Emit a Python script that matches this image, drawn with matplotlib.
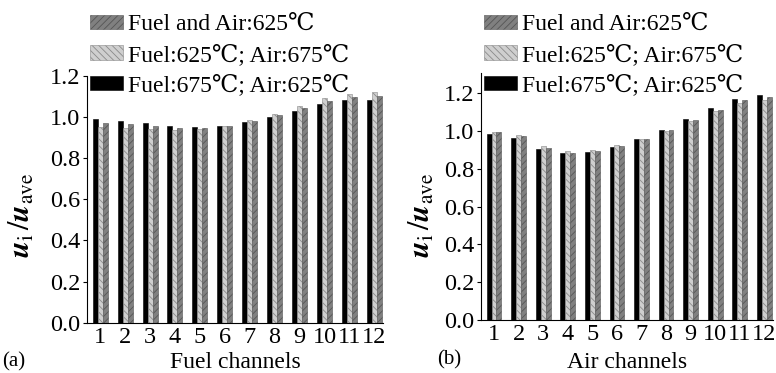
import numpy as np
import matplotlib.pyplot as plt

plt.rcParams['font.family'] = ['Liberation Serif', 'DejaVu Serif']
plt.rcParams['mathtext.fontset'] = 'stix'
plt.rcParams['hatch.linewidth'] = 0.6

channels = np.arange(1, 13)
tick_labels = [str(c) for c in channels]
series_names = ['Fuel and Air:625\u2103',
                'Fuel:625\u2103; Air:675\u2103',
                'Fuel:675\u2103; Air:625\u2103']

# (a) fuel channels
fuel_both_625 = [0.968, 0.964, 0.955, 0.947, 0.947, 0.956, 0.977, 1.006, 1.042, 1.076, 1.095, 1.102]
fuel_air_675 = [0.951, 0.947, 0.940, 0.937, 0.940, 0.956, 0.982, 1.011, 1.050, 1.089, 1.112, 1.118]
fuel_fuel_675 = [0.987, 0.980, 0.968, 0.955, 0.951, 0.956, 0.974, 1.000, 1.029, 1.061, 1.079, 1.082]

# (b) air channels
air_both_625 = [0.995, 0.974, 0.910, 0.885, 0.892, 0.921, 0.956, 1.003, 1.058, 1.113, 1.164, 1.182]
air_air_675 = [0.995, 0.979, 0.921, 0.896, 0.899, 0.926, 0.959, 1.002, 1.053, 1.106, 1.146, 1.164]
air_fuel_675 = [0.986, 0.965, 0.903, 0.882, 0.889, 0.917, 0.956, 1.003, 1.062, 1.120, 1.171, 1.190]

styles = [dict(color='#808080', edgecolor='#555555', hatch='/////'),
          dict(color='#cfcfcf', edgecolor='#8a8a8a', hatch='\\\\\\\\\\'),
          dict(color='black', edgecolor='black', hatch=None)]

fig = plt.figure(figsize=(7.76, 3.73), dpi=100)
W, H = 776, 373


def draw_panel(rect, both, air675, fuel675, ymax, yticks, xlabel, ylab_x, tag, tag_pos):
    l, r, b, t = rect
    ax = fig.add_axes([l / W, 1 - b / H, (r - l) / W, (b - t) / H])
    w = 0.2
    # bars are drawn black, light, dark inside each group
    ax.bar(channels - w, fuel675, w, lw=0.4, **styles[2], label=series_names[2])
    ax.bar(channels, air675, w, lw=0.4, **styles[1], label=series_names[1])
    ax.bar(channels + w, both, w, lw=0.4, **styles[0], label=series_names[0])
    ax.set_xlim(0.47, 12.35)
    ax.set_ylim(0, ymax)
    ax.set_yticks(yticks)
    ax.set_yticklabels(['%.1f' % v for v in yticks])
    ax.set_xticks(channels)
    ax.set_xticklabels(tick_labels)
    for s in ['top', 'right']:
        ax.spines[s].set_visible(False)
    ax.tick_params(axis='both', labelsize=17.5, direction='out', length=3, width=0.8, pad=2)
    ax.tick_params(axis='x', length=0, pad=3)
    ax.set_xlabel(xlabel, fontsize=17, va='center')
    ax.xaxis.set_label_coords((l + r) / 2 / W, 1 - 362 / H, transform=fig.transFigure)
    ax.set_ylabel(r'$\mathbfit{u}_{\mathrm{i}}\,/\mathbfit{u}_{\mathrm{ave}}$', fontsize=22, va='center')
    ax.yaxis.set_label_coords(ylab_x / W, 1 - 215 / H, transform=fig.transFigure)
    h, lab = ax.get_legend_handles_labels()
    ax.legend(h[::-1], lab[::-1], loc='upper left',
              bbox_to_anchor=((l + 3) / W, 1 - 14 / H), bbox_transform=fig.transFigure,
              frameon=False, fontsize=17, handlelength=1.4, handleheight=0.55,
              handletextpad=0.2, labelspacing=0.38, borderaxespad=0, borderpad=0)
    fig.text(tag_pos[0] / W, 1 - tag_pos[1] / H, tag, fontsize=15, va='center')
    return ax


draw_panel((87, 383, 322.7, 75.5), fuel_both_625, fuel_air_675, fuel_fuel_675,
           1.2, np.arange(0, 1.21, 0.2), 'Fuel channels', 22, '(a)', (2, 362))
draw_panel((481, 773, 320, 73), air_both_625, air_air_675, air_fuel_675,
           1.307, np.arange(0, 1.21, 0.2), 'Air channels', 422, '(b)', (437, 360))

fig.savefig('out.png', dpi=100)
